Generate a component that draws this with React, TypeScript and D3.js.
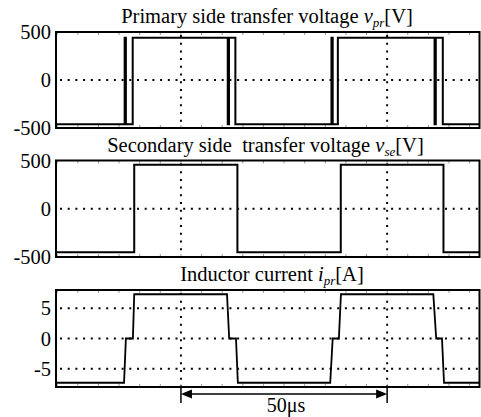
import React, { useRef, useEffect } from 'react';
import * as d3 from 'd3';

// time axis (μs), grid lines at 0 and 50 μs
const tStart = -30.3;
const tEnd = 72.4;
const gridTimes = [0, 50];
const minorTicks = [-30, -25, -20, -15, -10, -5, 0, 5, 10, 15, 20, 25, 30, 35, 40, 45, 50, 55, 60, 65, 70];

// primary side voltage v_pr: step changes (time, level after it)
const vprTimes = [-30.3, -13.65, -13.35, -11.7, 11.35, 11.65, 13.2, 36.5, 36.8, 38.05, 61.5, 61.8, 63.5, 72.4];
const vprLevels = [-460, 440, -460, 440, -460, 440, -460, 440, -460, 440, -460, 440, -460, -460];

// secondary side voltage v_se
const vseTimes = [-30.3, -11.33, 13.69, 38.76, 63.66, 72.4];
const vseLevels = [-450, 455, -450, 455, -450, -450];

// inductor current i_pr (piecewise linear)
const iprTimes = [-30.3, -13.8, -13.35, -11.65, -11.33, 11.17, 11.7, 13.35, 13.8, 36.2, 36.8, 38.3, 38.8, 61.2, 61.9, 63.3, 63.8, 72.4];
const iprValues = [-7.3, -7.3, 0, 0, 7.3, 7.3, 0, 0, -7.3, -7.3, 0, 0, 7.3, 7.3, 0, 0, -7.3, -7.3];

const voltTicks = [-500, 0, 500];
const currTicks = [-5, 0, 5];

const W = 481;
const H = 417;
const FONT = "'Liberation Serif', 'Times New Roman', 'DejaVu Serif', serif";

const App = () => {
  const svgRef = useRef<SVGSVGElement>(null);

  useEffect(() => {
    const svg = d3.select(svgRef.current);
    svg.selectAll('*').remove();

    const left = 56;
    const right = 479.5;
    const x = d3.scaleLinear().domain([tStart, tEnd]).range([left, right]);

    const panels = [
      { top: 32, bottom: 128, domain: [-500, 500], ticks: voltTicks, grid: [0],
        times: vprTimes, vals: vprLevels, step: true, width: 2,
        title: ['Primary side transfer voltage ', 'v', 'pr', '[V]'], cx: 267 },
      { top: 160.5, bottom: 257, domain: [-500, 500], ticks: voltTicks, grid: [0],
        times: vseTimes, vals: vseLevels, step: true, width: 2,
        title: ['Secondary side\u00a0 transfer voltage ', 'v', 'se', '[V]'], cx: 265.5 },
      { top: 290, bottom: 387, domain: [-8, 8], ticks: currTicks, grid: currTicks,
        times: iprTimes, vals: iprValues, step: false, width: 1.8,
        title: ['Inductor current ', 'i', 'pr', '[A]'], cx: 272 },
    ];

    panels.forEach(p => {
      const y = d3.scaleLinear().domain(p.domain).range([p.bottom, p.top]);
      const g = svg.append('g');

      // minor ticks on top/bottom edges
      g.selectAll('.mt')
        .data(minorTicks)
        .enter()
        .append('line')
        .attr('x1', d => x(d)).attr('x2', d => x(d))
        .attr('y1', p.bottom).attr('y2', p.bottom - 3)
        .attr('stroke', '#999').attr('stroke-width', 1);
      g.selectAll('.mt2')
        .data(minorTicks)
        .enter()
        .append('line')
        .attr('x1', d => x(d)).attr('x2', d => x(d))
        .attr('y1', p.top).attr('y2', p.top + 3)
        .attr('stroke', '#999').attr('stroke-width', 1);

      // dotted grid
      g.selectAll('.hg')
        .data(p.grid)
        .enter()
        .append('line')
        .attr('x1', left + 4).attr('x2', right)
        .attr('y1', d => y(d)).attr('y2', d => y(d))
        .attr('stroke', '#000').attr('stroke-width', 2)
        .attr('stroke-dasharray', '2 5.7');
      g.selectAll('.vg')
        .data(gridTimes)
        .enter()
        .append('line')
        .attr('x1', d => x(d)).attr('x2', d => x(d))
        .attr('y1', p.top + 3).attr('y2', p.bottom)
        .attr('stroke', '#000').attr('stroke-width', 2)
        .attr('stroke-dasharray', '2 5.7');

      // waveform
      const pts = p.times.map((t, i) => [t, p.vals[i]] as [number, number]);
      const line = d3.line<[number, number]>()
        .x(d => x(d[0]))
        .y(d => y(d[1]))
        .curve(p.step ? d3.curveStepAfter : d3.curveLinear);
      g.append('path')
        .attr('d', line(pts))
        .attr('fill', 'none')
        .attr('stroke', '#000')
        .attr('stroke-width', p.width);

      // frame
      g.append('rect')
        .attr('x', left).attr('y', p.top)
        .attr('width', right - left).attr('height', p.bottom - p.top)
        .attr('fill', 'none').attr('stroke', '#000').attr('stroke-width', 2);

      // tick labels
      g.selectAll('.tl')
        .data(p.ticks)
        .enter()
        .append('text')
        .attr('x', 51)
        .attr('y', d => y(d))
        .attr('dy', '0.35em')
        .attr('text-anchor', 'end')
        .style('font-family', FONT)
        .style('font-size', '20.5px')
        .text(d => d);

      // title
      const t = g.append('text')
        .attr('x', p.cx)
        .attr('y', p.top - 9)
        .attr('text-anchor', 'middle')
        .style('font-family', FONT)
        .style('font-size', '20.5px');
      t.append('tspan').text(p.title[0]);
      t.append('tspan').style('font-style', 'italic').text(p.title[1]);
      t.append('tspan').style('font-style', 'italic').style('font-size', '13px').attr('dy', 4).text(p.title[2]);
      t.append('tspan').attr('dy', -4).text(p.title[3]);
    });

    // 50 μs dimension arrow
    const x0 = x(gridTimes[0]);
    const x1 = x(gridTimes[1]);
    const ay = 394;
    const dim = svg.append('g').attr('stroke', '#000');
    dim.append('line').attr('x1', x0).attr('x2', x0).attr('y1', 388).attr('y2', 403).attr('stroke-width', 1.5);
    dim.append('line').attr('x1', x1).attr('x2', x1).attr('y1', 388).attr('y2', 403).attr('stroke-width', 1.5);
    dim.append('line').attr('x1', x0 + 8).attr('x2', x1 - 8).attr('y1', ay).attr('y2', ay).attr('stroke-width', 1.5);
    dim.append('path')
      .attr('d', `M${x0},${ay}L${x0 + 11},${ay - 4.5}L${x0 + 11},${ay + 4.5}Z`)
      .attr('fill', '#000').attr('stroke', 'none');
    dim.append('path')
      .attr('d', `M${x1},${ay}L${x1 - 11},${ay - 4.5}L${x1 - 11},${ay + 4.5}Z`)
      .attr('fill', '#000').attr('stroke', 'none');
    svg.append('text')
      .attr('x', (x0 + x1) / 2 + 2)
      .attr('y', 412)
      .attr('text-anchor', 'middle')
      .style('font-family', FONT)
      .style('font-size', '20px')
      .text('50μs');
  }, []);

  return (
    <svg
      ref={svgRef}
      width={W}
      height={H}
      style={{ position: 'absolute', left: 0, top: 0, background: '#fff' }}
    ></svg>
  );
};

export default App;
